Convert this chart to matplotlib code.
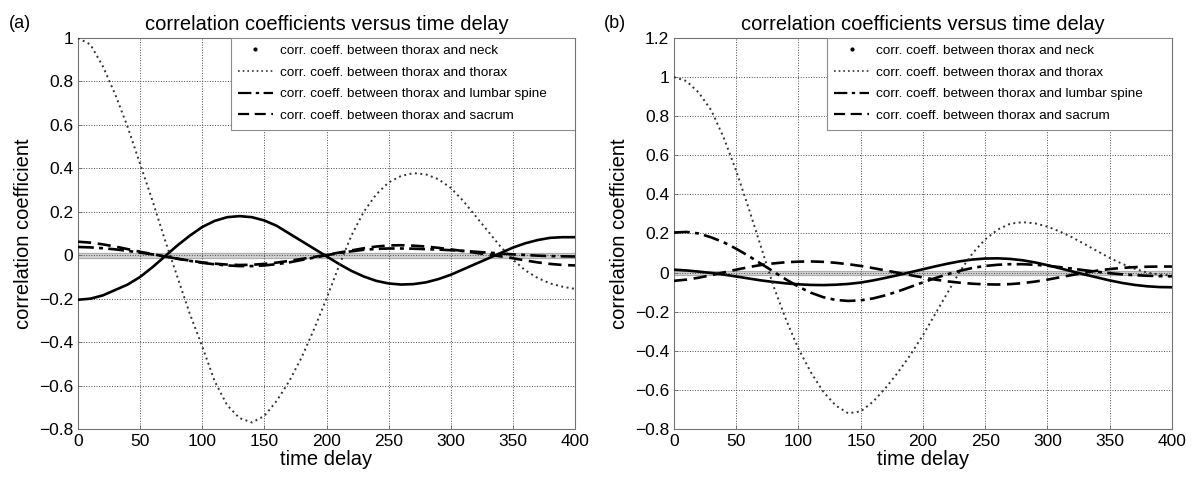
import numpy as np
import matplotlib
matplotlib.use("Agg")
import matplotlib.pyplot as plt
from matplotlib.lines import Line2D
from matplotlib.patches import Rectangle
from matplotlib.ticker import FuncFormatter

plt.rcParams["font.family"] = ["Liberation Sans", "DejaVu Sans"]

# time delay axis (samples every 10)
delay = np.arange(0, 401, 10)

# panel (a)
a_neck = [-0.205, -0.20, -0.185, -0.16, -0.135, -0.10, -0.055, -0.005, 0.045, 0.09, 0.13,
          0.158, 0.175, 0.18, 0.175, 0.16, 0.135, 0.10, 0.065, 0.03, -0.005,
          -0.04, -0.072, -0.098, -0.118, -0.13, -0.135, -0.133, -0.125, -0.11, -0.09,
          -0.065, -0.04, -0.015, 0.01, 0.035, 0.055, 0.07, 0.08, 0.083, 0.083]
a_thorax = [1.0, 0.97, 0.87, 0.74, 0.59, 0.42, 0.25, 0.07, -0.10, -0.27, -0.42,
            -0.58, -0.69, -0.75, -0.77, -0.74, -0.67, -0.58, -0.47, -0.34, -0.20,
            -0.05, 0.09, 0.20, 0.28, 0.335, 0.365, 0.378, 0.372, 0.35, 0.31,
            0.25, 0.18, 0.11, 0.04, -0.02, -0.07, -0.105, -0.13, -0.145, -0.155]
a_lumbar = [0.038, 0.036, 0.032, 0.027, 0.020, 0.012, 0.004, -0.006, -0.016, -0.026, -0.035,
            -0.042, -0.047, -0.050, -0.050, -0.047, -0.041, -0.033, -0.022, -0.011, 0.000,
            0.010, 0.018, 0.025, 0.029, 0.031, 0.031, 0.030, 0.028, 0.026, 0.023,
            0.020, 0.016, 0.012, 0.008, 0.004, 0.001, -0.002, -0.004, -0.005, -0.006]
a_sacrum = [0.062, 0.058, 0.050, 0.040, 0.028, 0.016, 0.005, -0.006, -0.016, -0.025, -0.033,
            -0.039, -0.043, -0.045, -0.044, -0.040, -0.034, -0.026, -0.017, -0.008, 0.002,
            0.012, 0.022, 0.032, 0.040, 0.045, 0.046, 0.044, 0.040, 0.034, 0.027,
            0.019, 0.011, 0.003, -0.005, -0.014, -0.024, -0.033, -0.040, -0.045, -0.047]

# panel (b)
b_neck = [0.015, 0.011, 0.005, -0.002, -0.010, -0.020, -0.030, -0.040, -0.048, -0.055, -0.060,
          -0.063, -0.064, -0.062, -0.058, -0.051, -0.040, -0.027, -0.013, 0.002, 0.017,
          0.032, 0.046, 0.058, 0.067, 0.072, 0.073, 0.070, 0.063, 0.052, 0.038,
          0.022, 0.006, -0.010, -0.025, -0.040, -0.053, -0.063, -0.070, -0.074, -0.075]
b_thorax = [1.0, 0.98, 0.92, 0.83, 0.69, 0.52, 0.33, 0.13, -0.07, -0.24, -0.39,
            -0.51, -0.61, -0.68, -0.72, -0.71, -0.66, -0.59, -0.51, -0.42, -0.32,
            -0.21, -0.10, 0.01, 0.10, 0.17, 0.22, 0.25, 0.258, 0.252, 0.235,
            0.21, 0.18, 0.145, 0.11, 0.075, 0.045, 0.02, 0.0, -0.01, -0.015]
b_lumbar = [0.205, 0.208, 0.200, 0.180, 0.155, 0.122, 0.085, 0.045, 0.005, -0.035, -0.072,
            -0.103, -0.126, -0.140, -0.145, -0.142, -0.132, -0.116, -0.096, -0.073, -0.050,
            -0.028, -0.008, 0.010, 0.024, 0.034, 0.040, 0.043, 0.043, 0.040, 0.035,
            0.028, 0.020, 0.012, 0.004, -0.003, -0.009, -0.013, -0.016, -0.018, -0.019]
b_sacrum = [-0.042, -0.036, -0.026, -0.013, 0.001, 0.015, 0.028, 0.039, 0.047, 0.053, 0.056,
            0.057, 0.055, 0.050, 0.043, 0.034, 0.023, 0.011, -0.001, -0.013, -0.025,
            -0.036, -0.045, -0.052, -0.057, -0.060, -0.061, -0.059, -0.054, -0.046, -0.036,
            -0.024, -0.012, 0.000, 0.010, 0.018, 0.024, 0.028, 0.030, 0.031, 0.031]

# confidence band around zero
band_lo, band_hi = -0.012, 0.008

labels = ["corr. coeff. between thorax and neck",
          "corr. coeff. between thorax and thorax",
          "corr. coeff. between thorax and lumbar spine",
          "corr. coeff. between thorax and sacrum"]


def fmt_tick(v, pos):
    v = round(v, 2) + 0.0
    if abs(v) < 1e-9:
        return "0"
    return ("%g" % v).replace("-", "\u2212")


def draw_panel(ax, neck, thorax, lumbar, sacrum, ymax, tag):
    ax.axhspan(band_lo, band_hi, color="#cfcfcf", zorder=1)
    ax.axhline(band_lo, color="#a8a8a8", lw=0.6, zorder=1)
    ax.axhline(band_hi, color="#a8a8a8", lw=0.6, zorder=1)
    ax.plot(delay, neck, "-", color="k", lw=1.9, zorder=3)
    ax.plot(delay, thorax, linestyle=(0, (1, 1.8)), color="#333333", lw=1.4, zorder=3)
    ax.plot(delay, lumbar, linestyle=(0, (6, 2, 1.5, 2)), color="k", lw=1.9, zorder=3)
    ax.plot(delay, sacrum, linestyle=(0, (5, 2.5)), color="k", lw=1.9, zorder=3)

    ax.set_xlim(0, 400)
    ax.set_ylim(-0.8, ymax)
    ax.set_xticks(np.arange(0, 401, 50))
    ax.set_yticks(np.arange(-0.8, ymax + 0.001, 0.2))
    ax.yaxis.set_major_formatter(FuncFormatter(fmt_tick))
    ax.tick_params(direction="in", length=3, labelsize=12.5, width=0.6, color="0.4")
    ax.grid(True, linestyle=":", color="0.3", lw=0.7)
    for sp in ax.spines.values():
        sp.set_linestyle((0, (2, 1)))
        sp.set_color("0.45")
        sp.set_linewidth(0.8)

    ax.set_title("correlation coefficients versus time delay", fontsize=14.5, pad=6)
    ax.set_xlabel("time delay", fontsize=14.5, labelpad=1)
    ax.set_ylabel("correlation coefficient", fontsize=14.5, labelpad=4)

    # legend box a la matlab: wide frame with extra room on the right
    ax.add_patch(Rectangle((0.308, 0.765), 0.692, 0.235, transform=ax.transAxes,
                           facecolor="white", edgecolor="0.55", lw=0.8, zorder=4))
    handles = [
        Line2D([], [], marker=".", linestyle="None", color="k", markersize=4),
        Line2D([], [], linestyle=(0, (1, 1.8)), color="#333333", lw=1.2),
        Line2D([], [], linestyle=(0, (6, 2, 1.5, 2)), color="k", lw=1.6),
        Line2D([], [], linestyle=(0, (5, 2.5)), color="k", lw=1.6),
    ]
    leg = ax.legend(handles, labels, loc="upper left", bbox_to_anchor=(0.308, 1.0),
                    fontsize=9.7, borderaxespad=0, handlelength=2.6, labelspacing=0.68,
                    handletextpad=0.5, borderpad=0.5, frameon=False)
    leg.set_zorder(5)
    ax.text(-0.14, 1.025, tag, transform=ax.transAxes, fontsize=13)


fig = plt.figure(figsize=(11.96, 4.86), dpi=100)
ax1 = fig.add_axes([0.0652, 0.1173, 0.4156, 0.8045])
ax2 = fig.add_axes([0.5635, 0.1173, 0.4164, 0.8045])

draw_panel(ax1, a_neck, a_thorax, a_lumbar, a_sacrum, 1.0, "(a)")
draw_panel(ax2, b_neck, b_thorax, b_lumbar, b_sacrum, 1.2, "(b)")

fig.savefig("out.png", dpi=100)
